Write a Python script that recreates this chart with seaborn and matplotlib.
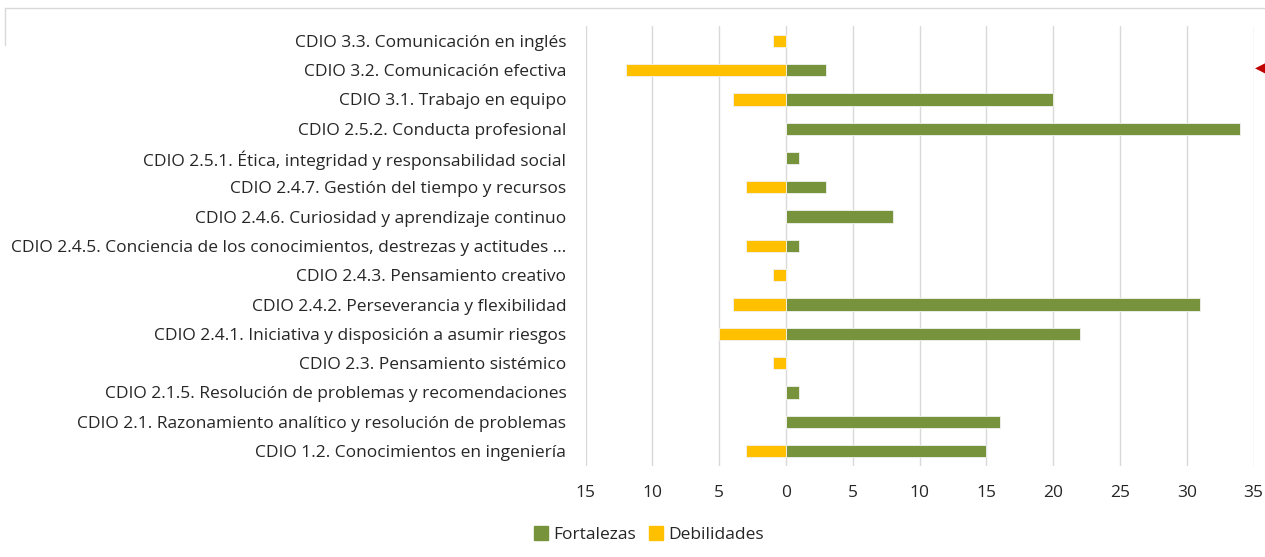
import pandas as pd
import matplotlib
matplotlib.use('Agg')
import matplotlib.pyplot as plt
import seaborn as sns
from matplotlib.ticker import FuncFormatter
from matplotlib.lines import Line2D

sns.set_theme(style="white")
plt.rcParams['font.family'] = ['Open Sans', 'DejaVu Sans']

# ==========================================
# DATA
# ==========================================
competencias = [
    "CDIO 3.3. Comunicación en inglés",
    "CDIO 3.2. Comunicación efectiva",
    "CDIO 3.1. Trabajo en equipo",
    "CDIO 2.5.2. Conducta profesional",
    "CDIO 2.5.1. Ética, integridad y responsabilidad social",
    "CDIO 2.4.7. Gestión del tiempo y recursos",
    "CDIO 2.4.6. Curiosidad y aprendizaje continuo",
    "CDIO 2.4.5. Conciencia de los conocimientos, destrezas y actitudes ...",
    "CDIO 2.4.3. Pensamiento creativo",
    "CDIO 2.4.2. Perseverancia y flexibilidad",
    "CDIO 2.4.1. Iniciativa y disposición a asumir riesgos",
    "CDIO 2.3. Pensamiento sistémico",
    "CDIO 2.1.5. Resolución de problemas y recomendaciones",
    "CDIO 2.1. Razonamiento analítico y resolución de problemas",
    "CDIO 1.2. Conocimientos en ingeniería",
]
fortalezas  = [0, 3, 20, 34, 1, 3, 8, 1, 0, 31, 22, 0, 1, 16, 15]
debilidades = [1, 12, 4, 0, 0, 3, 0, 3, 1, 4, 5, 1, 0, 0, 3]

series = ["Fortalezas", "Debilidades"]
colores = {"Fortalezas": "#77933C", "Debilidades": "#FFC000"}

df = pd.DataFrame({
    "competencia": competencias * 2,
    "serie": ["Fortalezas"] * len(competencias) + ["Debilidades"] * len(competencias),
    "valor": fortalezas + [-d for d in debilidades],
})

# ==========================================
# PLOT
# ==========================================
fig = plt.figure(figsize=(12.65, 5.57), dpi=100)
ax = fig.add_axes([0.463, 0.164, 0.528, 0.789])

sns.barplot(data=df, y="competencia", x="valor", hue="serie", hue_order=series,
            order=competencias, palette=colores, saturation=1, dodge=False, width=0.42,
            orient="h", edgecolor="#F2F2F2", linewidth=0.6, ax=ax, legend=False)

ax.set_xlim(-15, 35)
ax.set_xticks(range(-15, 36, 5))
ax.xaxis.set_major_formatter(FuncFormatter(lambda v, p: f"{abs(int(v))}"))
ax.grid(axis='x', color='#D9D9D9', linewidth=1)
ax.set_axisbelow(True)
for s in ax.spines.values():
    s.set_visible(False)
ax.set_xlabel("")
ax.set_ylabel("")
ax.tick_params(axis='x', length=0, pad=14, labelsize=12.5, colors='#262626')
ax.tick_params(axis='y', length=0, pad=14, labelsize=12.5, colors='#262626')

handles = [plt.Rectangle((0, 0), 1, 1, color=colores[s]) for s in series]
fig.legend(handles, series, loc='center', bbox_to_anchor=(0.513, 0.04), ncol=2,
           frameon=False, fontsize=12.5, handlelength=0.8, handleheight=0.8,
           handletextpad=0.3, columnspacing=0.8)

# screenshot frame remnants
fig.add_artist(Line2D([0.004, 1.0], [0.986, 0.986], color='#D9D9D9', linewidth=1))
fig.add_artist(Line2D([0.004, 0.004], [0.92, 0.986], color='#D9D9D9', linewidth=1))
fig.text(0.996, 0.88, "◀", color='#C00000', fontsize=10, ha='center', va='center',
         family='DejaVu Sans')

fig.savefig("out.png", dpi=100)
